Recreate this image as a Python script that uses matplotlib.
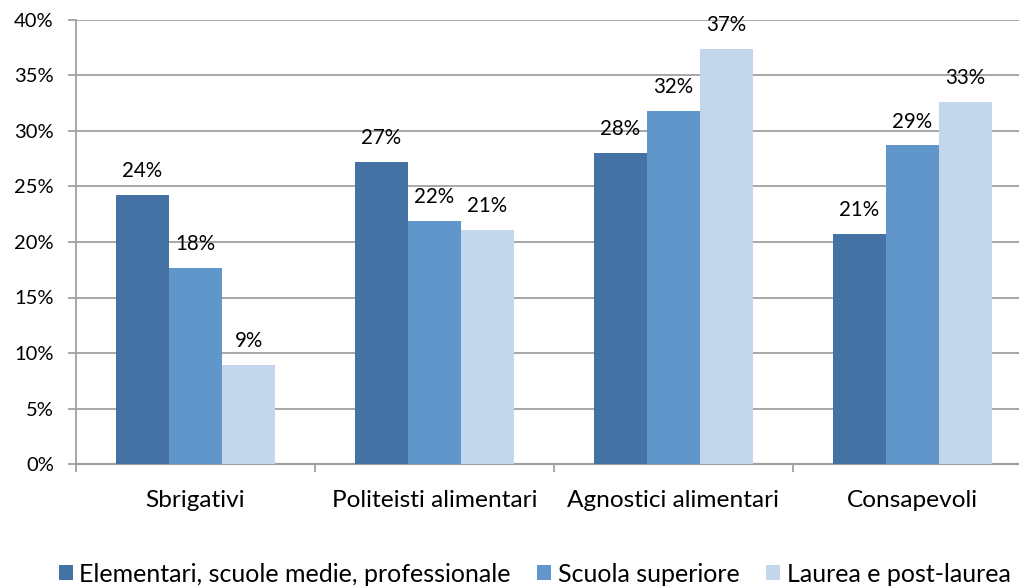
import matplotlib
matplotlib.use("Agg")
import matplotlib.pyplot as plt
import numpy as np

categories = ["Sbrigativi", "Politeisti alimentari", "Agnostici alimentari", "Consapevoli"]
series_names = ["Elementari, scuole medie, professionale", "Scuola superiore", "Laurea e post-laurea"]
elementari = [24.2, 27.2, 28.0, 20.7]
superiore = [17.7, 21.9, 31.8, 28.7]
laurea = [8.9, 21.1, 37.4, 32.6]
y_ticks = [0, 5, 10, 15, 20, 25, 30, 35, 40]

colors = ["#4572A4", "#6096CA", "#C4D6EB"]

plt.rcParams['font.family'] = ['Lato', 'DejaVu Sans']

fig = plt.figure(figsize=(10.2, 5.86), dpi=100)
ax = fig.add_axes([76/1020, (586-464)/586, 956/1020, 444/586])

x = np.arange(len(categories)) + 0.5
w = 0.222
all_series = [elementari, superiore, laurea]
for i, (vals, col, name) in enumerate(zip(all_series, colors, series_names)):
    bars = ax.bar(x + (i - 1) * w, vals, width=w, color=col, label=name, zorder=3)
    for b, v in zip(bars, vals):
        ax.annotate(f"{round(v):.0f}%", (b.get_x() + b.get_width() / 2, v),
                    xytext=(0, 10), textcoords="offset points",
                    ha="center", va="bottom", fontsize=14.8, color="black")

ax.set_xlim(0, 4)
ax.set_ylim(0, 40)
ax.set_yticks(y_ticks)
ax.set_yticklabels([f"{t}%" for t in y_ticks], fontsize=14.5)
ax.yaxis.grid(True, color="#A0A0A0", linewidth=1.3, zorder=0)
ax.set_axisbelow(True)

ax.set_xticks(x)
ax.set_xticklabels(categories, fontsize=17.6)
ax.tick_params(axis="x", which="major", length=0, pad=19)
ax.set_xticks(np.arange(0, 5), minor=True)
ax.tick_params(axis="x", which="minor", length=6, width=1.3, color="#A0A0A0")
ax.tick_params(axis="y", length=6, width=1.3, color="#A0A0A0", pad=10)

for s in ["top", "right"]:
    ax.spines[s].set_visible(False)
ax.spines["left"].set_color("#A0A0A0")
ax.spines["left"].set_linewidth(1.3)
ax.spines["bottom"].set_color("#A0A0A0")
ax.spines["bottom"].set_linewidth(1.6)

fig.legend(loc="center", bbox_to_anchor=(0.524, 12/586), ncol=3, frameon=False,
           fontsize=18, handlelength=0.56, handleheight=0.56, handletextpad=0.25,
           columnspacing=1.08, borderpad=0, borderaxespad=0)

fig.savefig("out.png", dpi=100)
